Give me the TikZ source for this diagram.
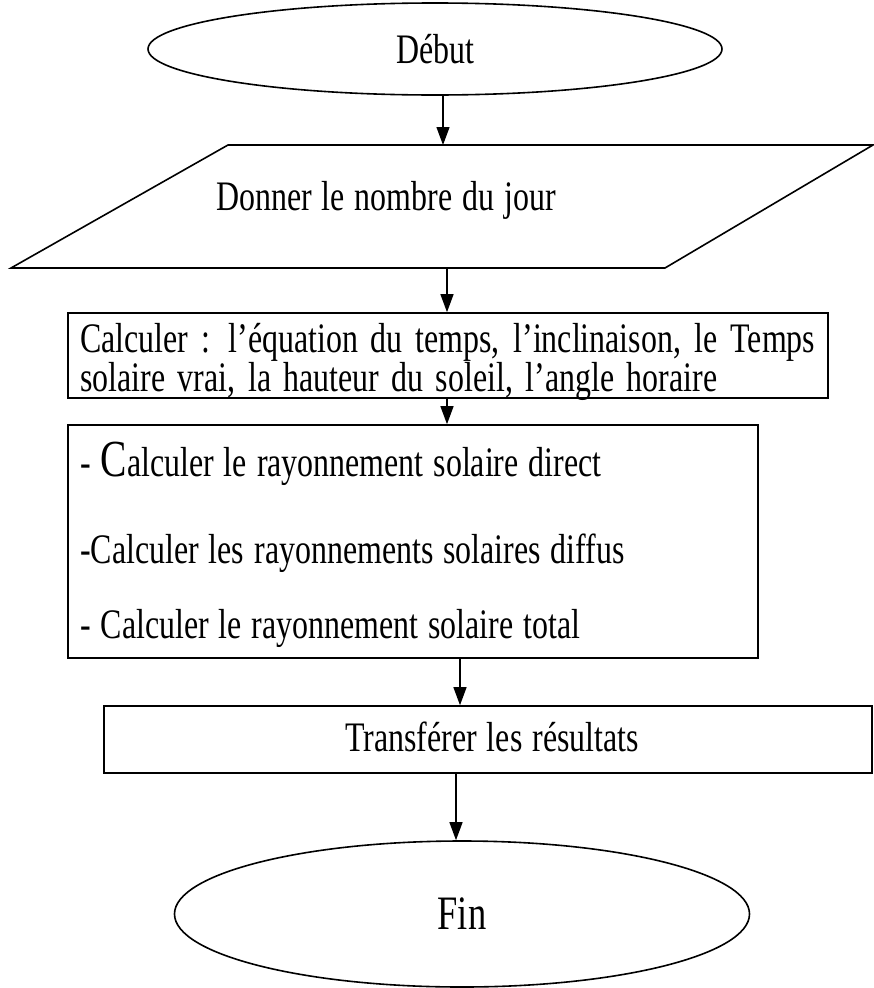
\documentclass[tikz,border=0pt]{standalone}
\usepackage{fontspec}
\setmainfont[FakeStretch=0.76,WordSpace=1.25]{Liberation Serif}
\usetikzlibrary{shapes.geometric,arrows.meta}
\begin{document}
\begin{tikzpicture}[x=1pt,y=-1pt,
  txt/.style={font=\fontsize{42}{44}\selectfont,inner sep=0pt},
  line/.style={txt,anchor=base west},
  term/.style={draw,line width=1.6pt,ellipse,inner sep=0pt,txt},
  boxnode/.style={draw,line width=1.6pt,rectangle,inner sep=0pt},
  arr/.style={line width=1.3pt,-{Triangle[length=18pt,width=13pt]}}]
\useasboundingbox (0,0) rectangle (873,988);
% start
\node[term,minimum width=574pt,minimum height=92pt] (debut) at (435,49) {Début};
% parallelogram
\coordinate (pTL) at (228,145);
\coordinate (pTR) at (873,145);
\coordinate (pBR) at (665,268);
\coordinate (pBL) at (11,268);
\draw[line width=1.6pt,line join=miter] (pTL) -- (pTR) -- (pBR) -- (pBL) -- cycle;
\node[txt] (donner) at (386,200) {Donner le nombre du jour};
% rect 1
\node[boxnode,minimum width=760pt,minimum height=85pt] (calc1) at (448,355.5) {};
\node[line] (c1l1) at (80,352) {\makebox[735pt][s]{Calculer : l’équation du temps, l’inclinaison, le Temps}};
\node[line] (c1l2) at (80,391) {\makebox[637pt][s]{solaire vrai, la hauteur du soleil, l’angle horaire}};
% rect 2
\node[boxnode,minimum width=690pt,minimum height=233pt] (calc2) at (413,541.5) {};
\node[line] (c2l1) at (80,476) {- {\fontsize{52}{44}\selectfont C}alculer le rayonnement solaire direct};
\node[line] (c2l2) at (80,563) {-Calculer les rayonnements solaires diffus};
\node[line] (c2l3) at (80,638) {- Calculer le rayonnement solaire total};
% rect 3
\node[boxnode,minimum width=768pt,minimum height=67pt] (trans) at (488,739.5) {};
\node[txt] (transtxt) at (492,737) {Transférer les résultats};
% end
\node[term,minimum width=575pt,minimum height=146pt,font=\fontsize{48}{50}\selectfont] (fin) at (462,914) {Fin};
% arrows
\coordinate (a1) at (443,145);
\coordinate (a2) at (447,268);
\coordinate (a4) at (460,658);
\coordinate (a5) at (456,773);
\draw[arr] (debut.south -| a1) -- (a1);
\draw[arr] (a2) -- (a2 |- calc1.north);
\draw[arr] (calc1.south -| a2) -- (a2 |- calc2.north);
\draw[arr] (a4) -- (a4 |- trans.north);
\draw[arr] (a5) -- (fin.north -| a5);
\end{tikzpicture}
\end{document}
